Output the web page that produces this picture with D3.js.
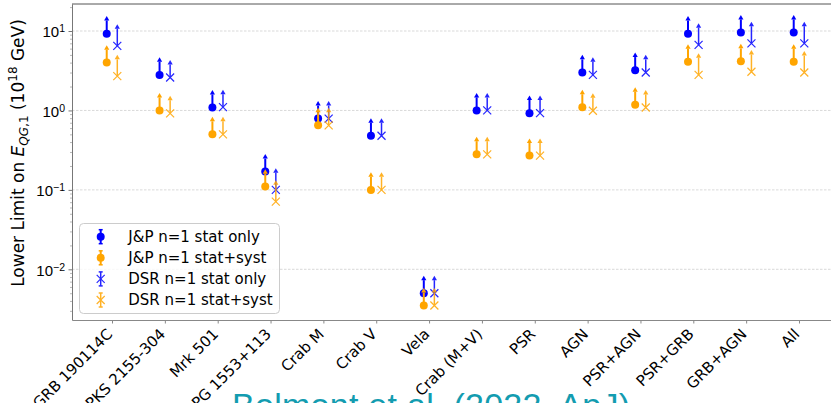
<!DOCTYPE html>
<html>
<head>
<meta charset="utf-8">
<script src="https://cdn.jsdelivr.net/npm/d3@7"></script>
<style>
    body { margin: 0; background: #ffffff; }
    svg { display: block; font-family: "DejaVu Sans", sans-serif; }
</style>
</head>
<body>
<svg id="chart" width="831" height="403"></svg>
<script>
// sources, one tick per source on the x axis
var categories = ["GRB 190114C", "PKS 2155-304", "Mrk 501", "PG 1553+113", "Crab M", "Crab V", "Vela",
    "Crab (M+V)", "PSR", "AGN", "PSR+AGN", "PSR+GRB", "GRB+AGN", "All"];

// lower limits on E_QG,1 (1e18 GeV) and the upward error (arrow length)
var jpStat = [9.25, 2.8, 1.09, 0.17, 0.79, 0.48, 0.0050, 1.0, 0.925, 3.0, 3.2, 9.25, 9.6, 9.6];
var jpStatErr = [4.3, 1.3, 0.5, 0.078, 0.36, 0.22, 0.0023, 0.46, 0.43, 1.4, 1.5, 4.3, 4.4, 4.4];
var jpSyst = [4.0, 1.0, 0.50, 0.11, 0.65, 0.10, 0.0035, 0.28, 0.27, 1.1, 1.18, 4.1, 4.15, 4.1];
var jpSystErr = [1.8, 0.46, 0.23, 0.05, 0.3, 0.046, 0.0016, 0.13, 0.12, 0.5, 0.54, 1.9, 1.9, 1.9];
var dsrStat = [6.5, 2.6, 1.1, 0.10, 0.79, 0.48, 0.0050, 1.0, 0.925, 2.8, 3.0, 6.7, 7.0, 7.0];
var dsrStatErr = [4.2, 1.2, 0.5, 0.064, 0.36, 0.22, 0.0023, 0.46, 0.43, 1.3, 1.4, 4.3, 4.5, 4.5];
var dsrSyst = [2.7, 0.92, 0.50, 0.071, 0.65, 0.10, 0.0035, 0.28, 0.27, 0.99, 1.09, 2.8, 3.07, 3.0];
var dsrSystErr = [1.7, 0.42, 0.23, 0.045, 0.3, 0.046, 0.0016, 0.13, 0.12, 0.46, 0.5, 1.8, 2.0, 1.9];

var seriesNames = ["J&P n=1 stat only", "J&P n=1 stat+syst", "DSR n=1 stat only", "DSR n=1 stat+syst"];

var yMajorTicks = [0.01, 0.1, 1, 10];
var yMajorExp = ["\u22122", "\u22121", "0", "1"];

var footerText = "Bolmont et al. (2022, ApJ)";

var plot = { left: 72, top: 4, right: 839, bottom: 320 };
var blue = "#0000ff", orange = "#ffa500";

var series = [
    { name: seriesNames[0], values: jpStat, errs: jpStatErr, color: blue, marker: "circle", offset: -0.1, lw: 2, opacity: 1 },
    { name: seriesNames[1], values: jpSyst, errs: jpSystErr, color: orange, marker: "circle", offset: -0.1, lw: 2, opacity: 1 },
    { name: seriesNames[2], values: dsrStat, errs: dsrStatErr, color: blue, marker: "x", offset: 0.1, lw: 1.5, opacity: 0.85 },
    { name: seriesNames[3], values: dsrSyst, errs: dsrSystErr, color: orange, marker: "x", offset: 0.1, lw: 1.5, opacity: 0.85 }
];

var svg = d3.select("#chart");

var x = d3.scaleLinear().domain([-0.757, 13.757]).range([plot.left, plot.right]);
var y = d3.scaleLog().domain([Math.pow(10, -2.638), Math.pow(10, 1.34)]).range([plot.bottom, plot.top]);

// grid
svg.append("g").selectAll("line").data(yMajorTicks).enter().append("line")
    .attr("x1", plot.left).attr("x2", plot.right)
    .attr("y1", function (d) { return y(d); }).attr("y2", function (d) { return y(d); })
    .attr("stroke", "#cfcfcf").attr("stroke-width", 0.8).attr("stroke-dasharray", "2.5,1.5");

// y axis, minor then major
var minors = [];
for (var k = -3; k <= 1; k++) {
    for (var m = 2; m <= 9; m++) {
        var v = m * Math.pow(10, k);
        if (v >= y.domain()[0] && v <= y.domain()[1]) minors.push(v);
    }
}
var yMinor = svg.append("g").attr("transform", "translate(" + plot.left + ",0)")
    .call(d3.axisLeft(y).tickValues(minors).tickSize(2).tickSizeOuter(0).tickFormat(""));
yMinor.select(".domain").remove();
yMinor.selectAll(".tick line").attr("stroke", "#888").attr("stroke-width", 0.6);

var yAxis = svg.append("g").attr("transform", "translate(" + plot.left + ",0)")
    .call(d3.axisLeft(y).tickValues(yMajorTicks).tickSize(3.5).tickSizeOuter(0).tickFormat(""));
yAxis.select(".domain").attr("stroke", "#777").attr("stroke-width", 1);
yAxis.selectAll(".tick line").attr("stroke", "#777");
yAxis.selectAll(".tick text").remove();
yAxis.selectAll(".tick").each(function (d, i) {
    var t = d3.select(this).append("text")
        .attr("x", -7).attr("y", 5.7)
        .attr("text-anchor", "end").attr("fill", "#000")
        .style("font-size", "15px");
    t.append("tspan").text("10");
    t.append("tspan").attr("dy", -5).style("font-size", "10.5px").text(yMajorExp[i]);
});

// x axis
var xAxis = svg.append("g").attr("transform", "translate(0," + plot.bottom + ")")
    .call(d3.axisBottom(x).tickValues(d3.range(categories.length)).tickSize(3.5).tickSizeOuter(0)
        .tickFormat(function (i) { return categories[i]; }));
xAxis.select(".domain").attr("stroke", "#888").attr("stroke-width", 1);
xAxis.selectAll(".tick line").attr("stroke", "#888");
xAxis.selectAll(".tick text")
    .attr("x", 0).attr("y", 0).attr("dy", 0)
    .attr("text-anchor", "end")
    .attr("transform", "translate(1,15) rotate(-45)")
    .attr("fill", "#000")
    .style("font-size", "15px").style("font-family", "DejaVu Sans, sans-serif");

// top spine
svg.append("line")
    .attr("x1", plot.left).attr("x2", plot.right)
    .attr("y1", plot.top).attr("y2", plot.top)
    .attr("stroke", "#555").attr("stroke-width", 1);

function drawMarker(g, kind, cx, cy, color) {
    if (kind === "circle") {
        g.append("circle").attr("cx", cx).attr("cy", cy).attr("r", 4).attr("fill", color);
    } else {
        var s = 4;
        g.append("path")
            .attr("d", "M" + (cx - s) + "," + (cy - s) + "L" + (cx + s) + "," + (cy + s) +
                "M" + (cx - s) + "," + (cy + s) + "L" + (cx + s) + "," + (cy - s))
            .attr("stroke", color).attr("stroke-width", 1.2).attr("fill", "none");
    }
}

// lower limits with upward arrows
series.forEach(function (s) {
    var g = svg.append("g").attr("opacity", s.opacity);
    s.values.forEach(function (v, i) {
        var cx = x(i + s.offset);
        var cy = y(v);
        var top = y(v + s.errs[i]);
        g.append("line")
            .attr("x1", cx).attr("x2", cx).attr("y1", cy).attr("y2", top)
            .attr("stroke", s.color).attr("stroke-width", s.lw);
        g.append("path")
            .attr("d", "M" + (cx - 2.6) + "," + top + "L" + (cx + 2.6) + "," + top + "L" + cx + "," + (top - 4.5) + "Z")
            .attr("fill", s.color);
        drawMarker(g, s.marker, cx, cy, s.color);
    });
});

// legend
var legend = svg.append("g");
legend.append("rect")
    .attr("x", 79.5).attr("y", 223.5).attr("width", 200).attr("height", 90).attr("rx", 4)
    .attr("fill", "#fff").attr("fill-opacity", 0.8).attr("stroke", "#cccccc");
series.forEach(function (s, i) {
    var cy = 236.7 + i * 21.1;
    var hx = 100.7;
    var g = legend.append("g").attr("opacity", s.opacity);
    g.append("line").attr("x1", hx).attr("x2", hx).attr("y1", cy - 7).attr("y2", cy + 7)
        .attr("stroke", s.color).attr("stroke-width", s.lw);
    g.append("line").attr("x1", hx - 2).attr("x2", hx + 2).attr("y1", cy - 7).attr("y2", cy - 7)
        .attr("stroke", s.color).attr("stroke-width", 1.5);
    g.append("line").attr("x1", hx - 2).attr("x2", hx + 2).attr("y1", cy + 7).attr("y2", cy + 7)
        .attr("stroke", s.color).attr("stroke-width", 1.5);
    drawMarker(g, s.marker, hx, cy, s.color);
    legend.append("text").attr("x", 128.3).attr("y", cy + 5.3)
        .attr("fill", "#000").style("font-size", "15px").text(s.name);
});

// y label
var ylab = svg.append("text")
    .attr("transform", "translate(24,153) rotate(-90)")
    .attr("text-anchor", "middle").attr("fill", "#000")
    .style("font-size", "17px");
ylab.append("tspan").text("Lower Limit on ");
ylab.append("tspan").style("font-style", "italic").text("E");
ylab.append("tspan").attr("dy", 3.5).style("font-size", "12px").style("font-style", "italic").text("QG");
ylab.append("tspan").style("font-size", "12px").text(",1");
ylab.append("tspan").attr("dy", -3.5).text(" (10");
ylab.append("tspan").attr("dy", -7).style("font-size", "12px").text("18");
ylab.append("tspan").attr("dy", 7).text(" GeV)");

// slide caption, cut by the bottom edge
svg.append("text")
    .attr("x", 232).attr("y", 417)
    .attr("textLength", 398).attr("lengthAdjust", "spacing")
    .attr("fill", "#139cb0")
    .style("font-family", "Liberation Sans, sans-serif").style("font-size", "34px")
    .text(footerText);
</script>
</body>
</html>
